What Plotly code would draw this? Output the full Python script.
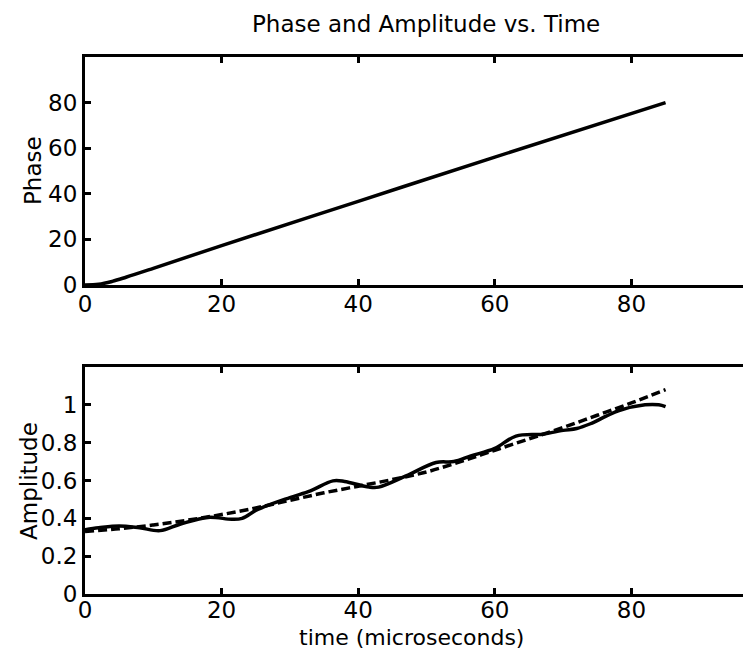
import plotly.graph_objects as go

# ---- data ----
phase_t = [0, 2, 4, 6, 10, 20, 40, 60, 85]
phase_v = [0, 0.3, 1.6, 3.4, 7.3, 17.3, 36.7, 56.1, 80]

amp_t = [0, 2, 5, 8, 11, 14, 18, 21.5, 23, 25.3, 30, 33, 36.3, 38, 41.6, 43, 47,
         51.4, 54, 56.5, 60, 63.1, 67, 70, 72, 74, 76.3, 78.2, 82, 84, 85]
amp_v = [0.34, 0.35, 0.36, 0.35, 0.335, 0.37, 0.405, 0.395, 0.40, 0.447, 0.51, 0.545,
         0.598, 0.595, 0.565, 0.565, 0.624, 0.695, 0.70, 0.73, 0.77, 0.835, 0.845,
         0.865, 0.875, 0.90, 0.94, 0.97, 1.00, 1.00, 0.99]

fit_t = [0, 5, 10, 15, 20, 25, 30, 35, 40, 45, 50, 55, 60, 65, 70, 75, 80, 85]
fit_v = [0.330, 0.345, 0.365, 0.39, 0.42, 0.455, 0.495, 0.535, 0.57, 0.605, 0.645,
         0.70, 0.76, 0.82, 0.88, 0.945, 1.01, 1.08]

x_ticks = [0, 20, 40, 60, 80]
phase_ticks = [0, 20, 40, 60, 80]
amp_ticks = [0, 0.2, 0.4, 0.6, 0.8, 1]
amp_ticktext = ["0", "0.2", "0.4", "0.6", "0.8", "1"]

title_text = "Phase and Amplitude vs. Time"
xlabel = "time (microseconds)"

# ---- layout constants ----
W, H = 751, 650
L, R, T, B = 77, 0, 49, 64
FONT = "DejaVu Sans"
FS = 23
plot_w = W - L - R
plot_h = H - T - B


def px_x(p):
    return (p - L) / plot_w


def px_y(p):
    return (H - B - p) / plot_h


fig = go.Figure()
fig.add_trace(go.Scatter(x=phase_t, y=phase_v, mode="lines",
                         line=dict(color="black", width=3.5, shape="spline"),
                         xaxis="x", yaxis="y", showlegend=False))
fig.add_trace(go.Scatter(x=amp_t, y=amp_v, mode="lines",
                         line=dict(color="black", width=3.5, shape="spline"),
                         xaxis="x2", yaxis="y2", showlegend=False))
fig.add_trace(go.Scatter(x=fit_t, y=fit_v, mode="lines",
                         line=dict(color="black", width=3.5, dash="9px,4px", shape="spline"),
                         xaxis="x2", yaxis="y2", showlegend=False))

xmax = plot_w / 6.83

axis_common = dict(showgrid=False, zeroline=False, showline=True, linecolor="black",
                   linewidth=3, ticks="inside", ticklen=6, tickwidth=3, tickcolor="black",
                   tickfont=dict(family=FONT, size=FS, color="black"))

fig.update_layout(
    width=W, height=H,
    margin=dict(l=L, r=R, t=T, b=B, pad=0),
    paper_bgcolor="white", plot_bgcolor="white",
    xaxis=dict(domain=[0, 1], range=[0, xmax], tickvals=x_ticks, mirror="ticks",
               anchor="y", ticklabelstandoff=-4, **axis_common),
    yaxis=dict(domain=[px_y(277), 1], range=[0, 100], tickvals=phase_ticks,
               anchor="x", **axis_common),
    xaxis2=dict(domain=[0, 1], range=[0, xmax], tickvals=x_ticks, mirror="ticks",
                anchor="y2", ticklabelstandoff=-7, **axis_common),
    yaxis2=dict(domain=[0, px_y(359)], range=[0, 1.2], tickvals=amp_ticks,
                ticktext=amp_ticktext, anchor="x2", **axis_common),
    annotations=[
        dict(text=title_text, x=px_x(418), y=px_y(16), xref="paper", yref="paper",
             showarrow=False, xanchor="center", yanchor="middle",
             font=dict(family=FONT, size=FS, color="black")),
        dict(text="Phase", x=px_x(25), y=px_y(163), xref="paper", yref="paper",
             showarrow=False, xanchor="center", yanchor="middle", textangle=-90,
             font=dict(family=FONT, size=FS, color="black")),
        dict(text="Amplitude", x=px_x(21), y=px_y(473), xref="paper", yref="paper",
             showarrow=False, xanchor="center", yanchor="middle", textangle=-90,
             font=dict(family=FONT, size=FS, color="black")),
        dict(text=xlabel, x=px_x(403), y=px_y(629), xref="paper", yref="paper",
             showarrow=False, xanchor="center", yanchor="middle",
             font=dict(family=FONT, size=22, color="black")),
    ],
)

fig.write_html("out.html")
